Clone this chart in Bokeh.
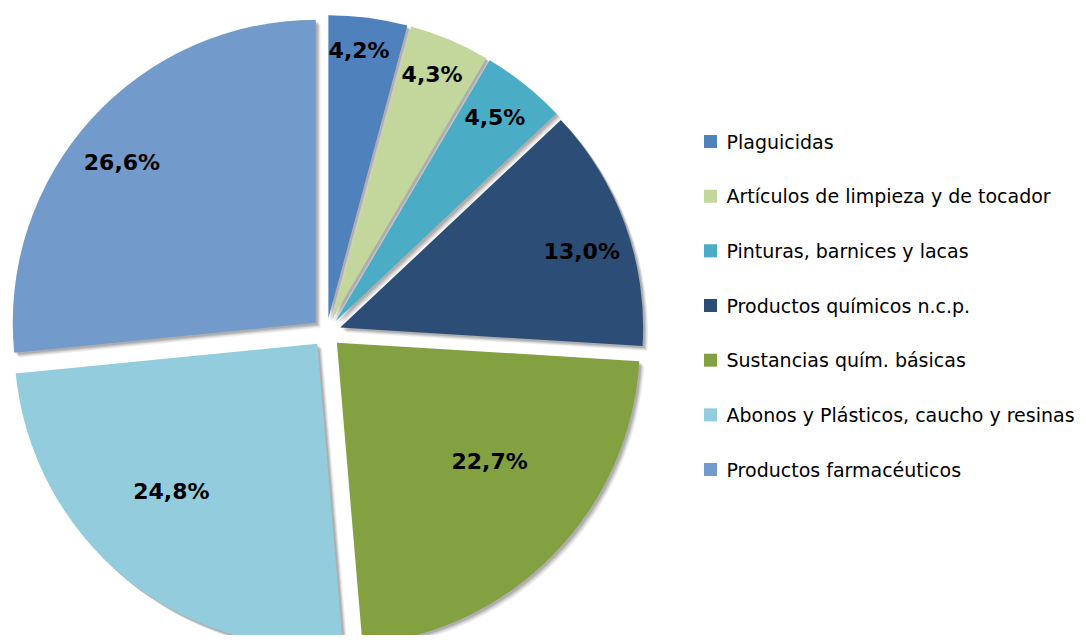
import numpy as np
from bokeh.plotting import figure
from bokeh.models import ColumnDataSource, Range1d
from bokeh.core.properties import value
from bokeh.embed import file_html
from bokeh.resources import INLINE

# ---- data ----
categories = [
    "Plaguicidas",
    "Artículos de  limpieza y de tocador",
    "Pinturas, barnices y lacas",
    "Productos químicos n.c.p.",
    "Sustancias quím. básicas",
    "Abonos y Plásticos, caucho y resinas",
    "Productos farmacéuticos",
]
values = [4.2, 4.3, 4.5, 13.0, 22.7, 24.8, 26.6]
colors = ["#4F81BD", "#C3D69B", "#4BACC6", "#2C4D75", "#84A142", "#93CDDD", "#729ACA"]

# ---- layout ----
W, H = 1078, 635
cx, cy = 326, 303        # pie centre (data units = px)
R = 303                  # radius
explode = 14.5           # outward offset of every slice
label_r = [0.888, 0.872, 0.853, 0.836, 0.639, 0.685, 0.831]
label_nudge_deg = [-1.0, -0.6, -0.6, 2.4, -6.4, 4.9, -2.5]

vals = np.array(values, dtype=float)
frac = vals / vals.sum()
cum = np.concatenate([[0.0], np.cumsum(frac)]) * 2 * np.pi
t1, t2 = cum[:-1], cum[1:]
mid = (t1 + t2) / 2

wx = cx + explode * np.sin(mid)
wy = cy + explode * np.cos(mid)

la = mid + np.radians(label_nudge_deg)
lx = wx + np.array(label_r) * R * np.sin(la)
ly = wy + np.array(label_r) * R * np.cos(la)
labels = [("%.1f%%" % v).replace(".", ",") for v in values]

src = ColumnDataSource(dict(
    x=wx, y=wy, start=np.pi / 2 - t1, end=np.pi / 2 - t2,
    color=colors, cat=categories, lx=lx, ly=ly, label=labels,
))

p = figure(width=W, height=H, x_range=Range1d(0, W), y_range=Range1d(0, H),
           output_backend="svg", toolbar_location=None,
           x_axis_location=None, y_axis_location=None, min_border=0)
p.outline_line_color = None
p.xgrid.visible = False
p.ygrid.visible = False
p.background_fill_color = "white"
p.border_fill_color = "white"

# soft drop shadow
for off, a in [(5, 0.06), (4, 0.08), (3, 0.10), (2, 0.12)]:
    sh = ColumnDataSource(dict(x=wx + off, y=wy - off, start=np.pi / 2 - t1, end=np.pi / 2 - t2))
    p.wedge(x="x", y="y", radius=R, start_angle="start", end_angle="end",
            direction="clock", source=sh, fill_color="black", fill_alpha=a, line_color=None)

p.wedge(x="x", y="y", radius=R, start_angle="start", end_angle="end",
        direction="clock", source=src, fill_color="color", line_color=None)

p.text(x="lx", y="ly", text="label", source=src, text_align="center",
       text_baseline="middle", text_font=value("DejaVu Sans"),
       text_font_size="22px", text_font_style="bold", text_color="black")

# legend (drawn manually)
leg_x, leg_y0, leg_step = 710, 494, 54.67
leg_y = [leg_y0 - i * leg_step for i in range(len(categories))]
lsrc = ColumnDataSource(dict(x=[leg_x] * len(categories), y=leg_y,
                             tx=[leg_x + 16] * len(categories),
                             color=colors, cat=categories))
p.scatter(x="x", y="y", source=lsrc, marker="square", size=13,
          fill_color="color", line_color=None)
p.text(x="tx", y="y", text="cat", source=lsrc, text_align="left",
       text_baseline="middle", text_font=value("DejaVu Sans"),
       text_font_size="19px", text_color="black")

open("out.html", "w").write(file_html(p, INLINE))
